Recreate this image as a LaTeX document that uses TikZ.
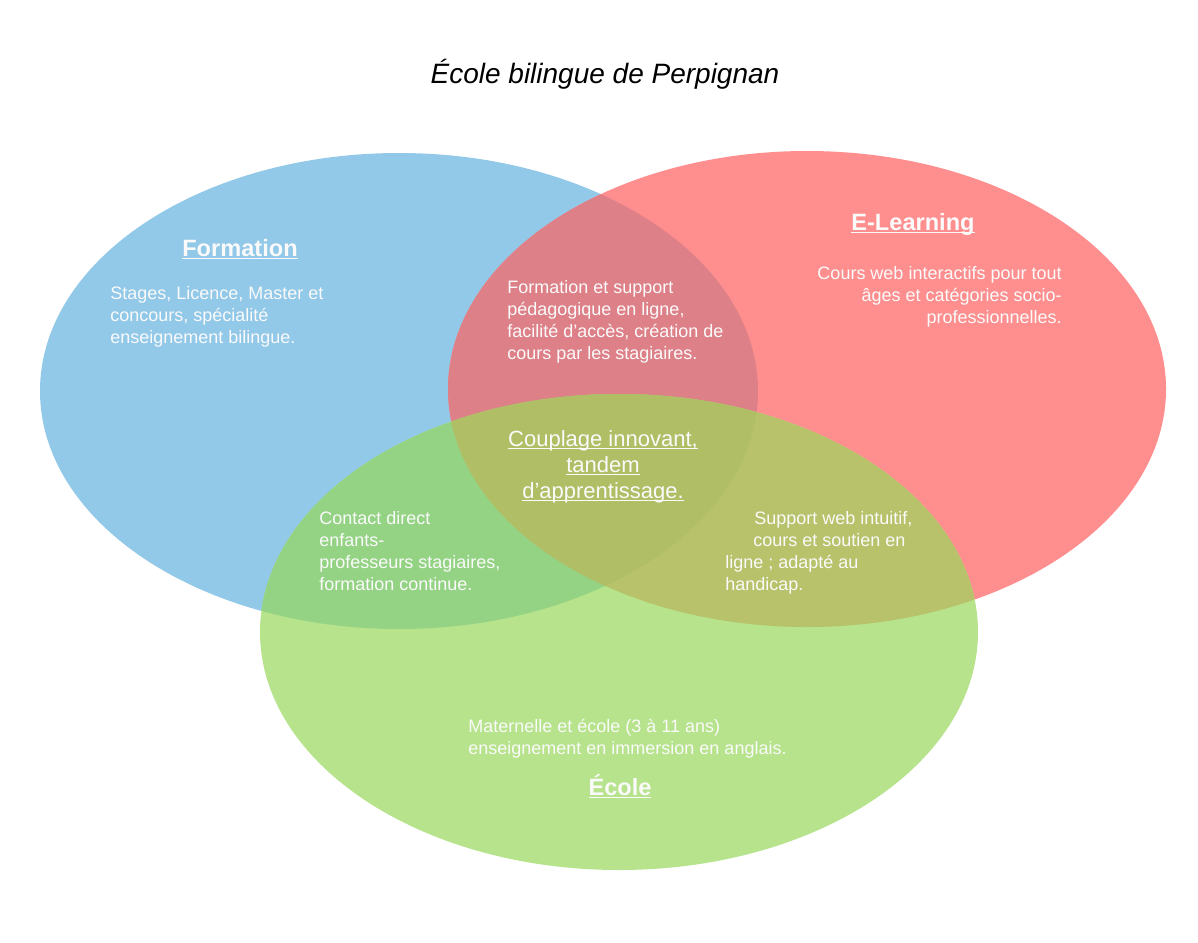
\documentclass[tikz,border=0pt]{standalone}
\usepackage{fontspec}
\setmainfont{Liberation Sans}
\newsavebox\ulbox
% underline drawn a little below the baseline
\newcommand\undl[1]{\sbox\ulbox{#1}\rlap{\rule[-0.13em]{\wd\ulbox}{0.055em}}\usebox\ulbox}
\definecolor{cBlue}{RGB}{146,200,232}
\definecolor{cRed}{RGB}{255,142,142}
\definecolor{cGreen}{RGB}{182,227,139}
\definecolor{cBR}{RGB}{222,128,136}
\definecolor{cBG}{RGB}{148,211,132}
\definecolor{cRG}{RGB}{184,194,106}
\definecolor{cAll}{RGB}{176,190,102}
\definecolor{txt}{RGB}{250,250,250}
\tikzset{
  blueE/.style={insert path={(399,391) ellipse [x radius=359, y radius=238]}},
  redE/.style={insert path={(807,389) ellipse [x radius=359, y radius=238]}},
  greenE/.style={insert path={(619,632) ellipse [x radius=359, y radius=238]}},
  body/.style={inner sep=0pt, text=txt, font=\fontsize{9pt}{11pt}\selectfont},
  label/.style={inner sep=0pt, text=txt, font=\fontsize{11.8pt}{14pt}\selectfont\bfseries},
  core/.style={inner sep=0pt, text=txt, align=center, font=\fontsize{11pt}{13pt}\selectfont},
}
\begin{document}
\begin{tikzpicture}[x=0.5pt,y=-0.5pt]
\useasboundingbox (0,0) rectangle (1198,942);
\fill[white] (0,0) rectangle (1198,942);

% the three sets
\fill[cBlue][blueE];
\fill[cRed][redE];
\fill[cGreen][greenE];
% pairwise overlaps
\begin{scope}\clip[blueE]; \fill[cBR][redE]; \end{scope}
\begin{scope}\clip[blueE]; \fill[cBG][greenE]; \end{scope}
\begin{scope}\clip[redE]; \fill[cRG][greenE]; \end{scope}
% common core
\begin{scope}\clip[blueE]; \clip[redE]; \fill[cAll][greenE]; \end{scope}

% title
\node[anchor=base, inner sep=0pt, font=\fontsize{14pt}{16pt}\selectfont\itshape] (title) at (605,83) {École bilingue de Perpignan};

% set labels
\node[label, anchor=base] (formation) at (240,256) {\undl{Formation}};
\node[label, anchor=base] (elearning) at (913,230) {\undl{E-Learning}};
\node[label, anchor=base] (ecole) at (620,795) {\undl{École}};

% descriptions
\node[body, anchor=north west, align=left] (tformation) at (110,286)
  {Stages, Licence, Master et\\concours, spécialité\\enseignement bilingue.};
\node[body, anchor=north east, align=right] (telearning) at (1062,266)
  {Cours web interactifs pour tout\\âges et catégories socio-\\professionnelles.};
\node[body, anchor=north west, align=left] (tecole) at (468,719)
  {Maternelle et école (3 à 11 ans)\\enseignement en immersion en anglais.};
\node[body, anchor=north west, align=left] (tfe) at (507,280)
  {Formation et support\\pédagogique en ligne,\\facilité d’accès, création de\\cours par les stagiaires.};
\node[body, anchor=north west, align=left] (tfc) at (319,511)
  {Contact direct\\enfants-\\professeurs stagiaires,\\formation continue.};
\node[body, anchor=north west, align=left] (tec) at (725,511)
  {\hspace*{14.5pt}Support web intuitif,\\\hspace*{14pt}cours et soutien en\\ligne ; adapté au\\handicap.};
\node[core, anchor=north] (center) at (603,430)
  {\undl{Couplage innovant,}\\\undl{tandem}\\\undl{d’apprentissage.}};
\end{tikzpicture}
\end{document}
